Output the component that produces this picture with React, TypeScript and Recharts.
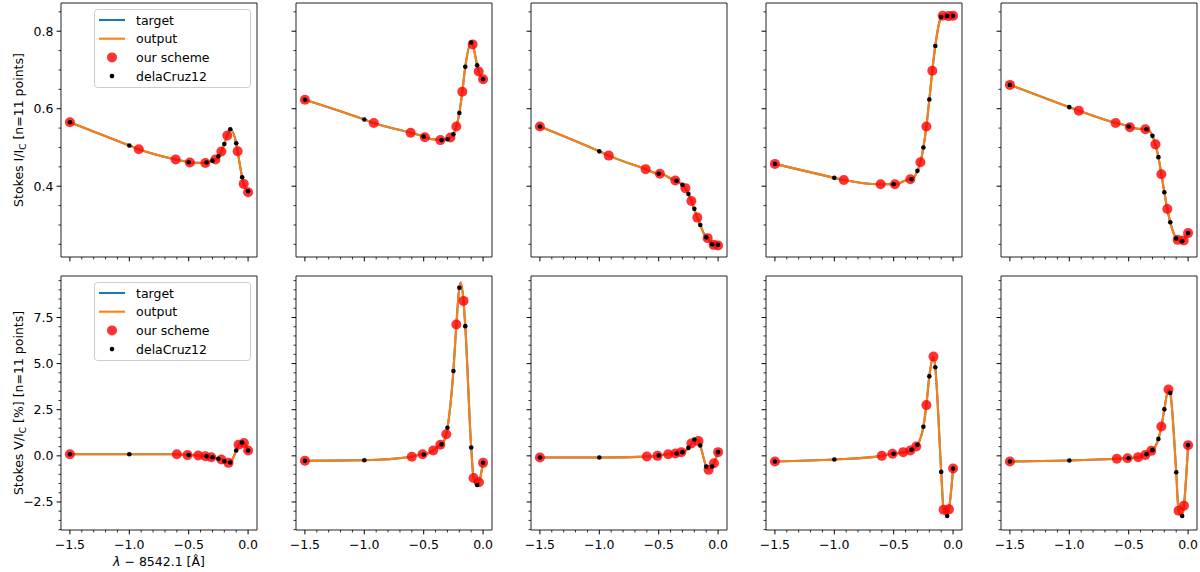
import React from 'react';
import { ComposedChart, Line, Scatter, XAxis, YAxis, CartesianGrid, Label } from 'recharts';

// ---------- data ----------
// wavelength offsets (Å) of the delaCruz12 sampling (same for all panels)
const DELA_X = [-1.5, -1.0, -0.5, -0.35, -0.3, -0.25, -0.2, -0.15, -0.1, -0.05, 0.0];
// wavelength offsets of "our scheme" sampling, Stokes I row and Stokes V row
const SCHEME_X_I = [-1.5, -0.92, -0.61, -0.49, -0.36, -0.275, -0.225, -0.175, -0.088, -0.037, 0.0];
const SCHEME_X_V = [-1.5, -0.6, -0.51, -0.42, -0.36, -0.31, -0.225, -0.165, -0.08, -0.035, 0.0];

// Stokes I/Ic
const I_SCHEME_1 = [0.565, 0.4955, 0.469, 0.461, 0.46, 0.469, 0.4895, 0.531, 0.49, 0.406, 0.3845];
const I_DELA_1 = [0.565, 0.505, 0.462, 0.461, 0.466, 0.477, 0.509, 0.547, 0.511, 0.423, 0.387];
const I_SCHEME_2 = [0.623, 0.563, 0.538, 0.5265, 0.519, 0.5256, 0.554, 0.644, 0.766, 0.696, 0.676];
const I_DELA_2 = [0.623, 0.572, 0.528, 0.519, 0.521, 0.534, 0.589, 0.708, 0.771, 0.712, 0.676];
const I_SCHEME_3 = [0.554, 0.479, 0.444, 0.432, 0.4146, 0.395, 0.362, 0.319, 0.266, 0.2486, 0.247];
const I_DELA_3 = [0.554, 0.49, 0.432, 0.414, 0.4034, 0.38, 0.3415, 0.3, 0.268, 0.25, 0.2486];
const I_SCHEME_4 = [0.4576, 0.416, 0.405, 0.405, 0.418, 0.462, 0.554, 0.698, 0.84, 0.839, 0.84];
const I_DELA_4 = [0.4576, 0.4215, 0.405, 0.418, 0.4396, 0.4998, 0.6237, 0.762, 0.837, 0.839, 0.84];
const I_SCHEME_5 = [0.6615, 0.595, 0.563, 0.552, 0.547, 0.508, 0.431, 0.341, 0.2615, 0.26, 0.279];
const I_DELA_5 = [0.6615, 0.604, 0.554, 0.547, 0.53, 0.475, 0.3845, 0.307, 0.265, 0.258, 0.279];

// Stokes V/Ic [%]
const V_SCHEME_1 = [0.09, 0.09, 0.04, 0.02, -0.02, -0.08, -0.2, -0.38, 0.6, 0.7, 0.29];
const V_DELA_1 = [0.09, 0.09, 0.05, -0.02, -0.08, -0.16, -0.29, -0.36, 0.29, 0.72, 0.29];
const V_SCHEME_2 = [-0.27, -0.05, 0.09, 0.29, 0.6, 1.17, 7.12, 8.4, -1.2, -1.43, -0.38];
const V_DELA_2 = [-0.27, -0.24, 0.07, 0.62, 1.52, 4.6, 9.11, 7.03, 0.45, -1.58, -0.38];
const V_SCHEME_3 = [-0.09, -0.04, 0.0, 0.09, 0.13, 0.2, 0.67, 0.8, -0.76, -0.4, 0.2];
const V_DELA_3 = [-0.09, -0.09, 0.02, 0.13, 0.2, 0.43, 0.89, 0.56, -0.58, -0.58, 0.2];
const V_SCHEME_4 = [-0.31, 0.0, 0.11, 0.2, 0.29, 0.51, 2.75, 5.38, -2.92, -2.9, -0.69];
const V_DELA_4 = [-0.31, -0.2, 0.11, 0.33, 0.6, 1.58, 4.31, 4.8, -0.87, -3.26, -0.69];
const V_SCHEME_5 = [-0.31, -0.16, -0.13, -0.07, 0.05, 0.27, 1.59, 3.6, -2.97, -2.7, 0.58];
const V_DELA_5 = [-0.31, -0.25, -0.13, 0.09, 0.31, 0.92, 2.52, 3.41, -0.89, -3.26, 0.58];

// extra profile samples (peaks)
const V_PEAK_X_2 = [-0.188];
const V_PEAK_Y_2 = [9.4];

// axis ticks
const X_MAJOR = [-1.5, -1.0, -0.5, 0.0];
const X_MINOR = [-1.4, -1.3, -1.2, -1.1, -0.9, -0.8, -0.7, -0.6, -0.4, -0.3, -0.2, -0.1];
const I_MAJOR = [0.4, 0.6, 0.8];
const I_MINOR = [0.25, 0.3, 0.35, 0.45, 0.5, 0.55, 0.65, 0.7, 0.75, 0.85];
const V_MAJOR = [-2.5, 0.0, 2.5, 5.0, 7.5];
const V_MINOR = [-4, -3.5, -3, -2, -1.5, -1, -0.5, 0.5, 1, 1.5, 2, 3, 3.5, 4, 4.5, 5.5, 6, 6.5, 7, 8, 8.5, 9, 9.5];

const LEGEND_LABELS = ['target', 'output', 'our scheme', 'delaCruz12'];

// ---------- styling / layout ----------
const FONT = '"DejaVu Sans", Verdana, sans-serif';
const FS = 12.5;
const C_TARGET = '#1f77b4';
const C_OUTPUT = '#ff7f0e';
const C_SCHEME = '#ff0000';
const C_DELA = '#000000';
const LW = 2.1;

const X_DOMAIN: [number, number] = [-1.575, 0.075];
const Y_DOMAINS: [number, number][] = [
  [0.2173, 0.8728],
  [-4.02, 9.75],
];

const PLOT_LEFT = [60.5, 295.5, 530.5, 765.5, 1000.5];
const PLOT_TOP = [2.5, 275.5];
const PLOT_W = 196;
const PLOT_H = 254;
const YW = 60;
const MR = 4;
const MT = 4;
const TS = 4;
const TM = 4;

type Pt = { x: number; y: number };
const toPts = (xs: number[], ys: number[]): Pt[] => xs.map((x, i) => ({ x, y: ys[i] }));
const mergeLine = (a: Pt[], b: Pt[], extra: Pt[]): Pt[] => {
  const all = [...a, ...b, ...extra].sort((p, q) => p.x - q.x);
  const out: Pt[] = [];
  for (const p of all) {
    const last = out[out.length - 1];
    if (last && Math.abs(last.x - p.x) < 1e-9) {
      last.y = (last.y + p.y) / 2;
    } else {
      out.push({ x: p.x, y: p.y });
    }
  }
  return out;
};

const I_SCHEME = [I_SCHEME_1, I_SCHEME_2, I_SCHEME_3, I_SCHEME_4, I_SCHEME_5];
const I_DELA = [I_DELA_1, I_DELA_2, I_DELA_3, I_DELA_4, I_DELA_5];
const V_SCHEME = [V_SCHEME_1, V_SCHEME_2, V_SCHEME_3, V_SCHEME_4, V_SCHEME_5];
const V_DELA = [V_DELA_1, V_DELA_2, V_DELA_3, V_DELA_4, V_DELA_5];
const V_EXTRA: Pt[][] = [[], toPts(V_PEAK_X_2, V_PEAK_Y_2), [], [], []];

const isIn = (arr: number[], v: number) => arr.some((m) => Math.abs(m - v) < 1e-6);
const fmt = (v: number) => {
  const s = Math.abs(v).toFixed(1);
  return v < -1e-9 ? '\u2212' + s : s;
};
const sorted = (a: number[], b: number[]) => [...a, ...b].sort((p, q) => p - q);

const makeXTick = (showLabel: boolean) => (props: any) => {
  const { x, y, payload } = props;
  const v = payload.value;
  const major = isIn(X_MAJOR, v);
  const ay = y - TS - TM;
  return (
    <g>
      <line x1={x} x2={x} y1={ay} y2={ay + (major ? 4.4 : 2.5)} stroke="#000" strokeWidth={major ? 1 : 0.8} />
      {major && showLabel ? (
        <text x={x} y={ay + 18.5} textAnchor="middle" fontFamily={FONT} fontSize={FS} fill="#000">
          {fmt(v)}
        </text>
      ) : null}
    </g>
  );
};

const makeYTick = (majors: number[], showLabel: boolean) => (props: any) => {
  const { x, y, payload } = props;
  const v = payload.value;
  const major = isIn(majors, v);
  const ax = x + TS + TM;
  return (
    <g>
      <line x1={ax} x2={ax - (major ? 4.4 : 2.5)} y1={y} y2={y} stroke="#000" strokeWidth={major ? 1 : 0.8} />
      {major && showLabel ? (
        <text x={ax - 7.5} y={y} dy="0.36em" textAnchor="end" fontFamily={FONT} fontSize={FS} fill="#000">
          {fmt(v)}
        </text>
      ) : null}
    </g>
  );
};

const makeYLabel = (head: string, tail: string) => (props: any) => {
  const vb = props.viewBox || { x: 0, y: 0, width: 0, height: 0 };
  const cx = vb.x + 21.5;
  const cy = vb.y + vb.height / 2;
  return (
    <text
      x={cx}
      y={cy}
      transform={`rotate(-90 ${cx} ${cy})`}
      textAnchor="middle"
      fontFamily={FONT}
      fontSize={FS}
      fill="#000"
    >
      {head}
      <tspan fontSize={9} dy={3}>
        C
      </tspan>
      <tspan dy={-3}>{tail}</tspan>
    </text>
  );
};

const xLabelContent = (props: any) => {
  const vb = props.viewBox || { x: 0, y: 0, width: 0, height: 0 };
  return (
    <text x={vb.x + vb.width / 2} y={vb.y + 36} textAnchor="middle" fontFamily={FONT} fontSize={FS} fill="#000">
      <tspan fontStyle="italic">λ</tspan>
      <tspan>{'\u00a0\u2212\u00a08542.1\u00a0[Å]'}</tspan>
    </text>
  );
};

const schemeShape = (p: any) => <circle cx={p.cx} cy={p.cy} r={5} fill={C_SCHEME} fillOpacity={0.8} />;
const delaShape = (p: any) => <circle cx={p.cx} cy={p.cy} r={2.3} fill={C_DELA} />;

function Panel({ row, col }: { row: number; col: number }) {
  const isI = row === 0;
  const scheme = toPts(isI ? SCHEME_X_I : SCHEME_X_V, (isI ? I_SCHEME : V_SCHEME)[col]);
  const dela = toPts(DELA_X, (isI ? I_DELA : V_DELA)[col]);
  const line = mergeLine(scheme, dela, isI ? [] : V_EXTRA[col]);
  const xh = row === 0 ? 8 : 44;
  const W = YW + PLOT_W + MR;
  const H = MT + PLOT_H + xh;
  const majors = isI ? I_MAJOR : V_MAJOR;
  const minors = isI ? I_MINOR : V_MINOR;
  return (
    <div style={{ position: 'absolute', left: PLOT_LEFT[col] - YW, top: PLOT_TOP[row] - MT }}>
      <ComposedChart width={W} height={H} margin={{ top: MT, right: MR, bottom: 0, left: 0 }}>
        <CartesianGrid
          stroke="#222"
          strokeWidth={1}
          horizontalCoordinatesGenerator={(a: any) => [a.offset.top, a.offset.top + a.offset.height]}
          verticalCoordinatesGenerator={(a: any) => [a.offset.left, a.offset.left + a.offset.width]}
        />
        <XAxis
          type="number"
          dataKey="x"
          domain={X_DOMAIN}
          allowDataOverflow
          ticks={sorted(X_MAJOR, X_MINOR)}
          interval={0}
          height={xh}
          tickSize={TS}
          tickMargin={TM}
          tickLine={false}
          axisLine={false}
          tick={makeXTick(row === 1)}
        >
          {row === 1 && col === 0 ? <Label content={xLabelContent} /> : null}
        </XAxis>
        <YAxis
          type="number"
          dataKey="y"
          domain={Y_DOMAINS[row]}
          allowDataOverflow
          ticks={sorted(majors, minors)}
          interval={0}
          width={YW}
          tickSize={TS}
          tickMargin={TM}
          tickLine={false}
          axisLine={false}
          tick={makeYTick(majors, col === 0)}
        >
          {col === 0 ? (
            <Label
              content={isI ? makeYLabel('Stokes I/I', '\u00a0[n=11 points]') : makeYLabel('Stokes V/I', '\u00a0[%] [n=11 points]')}
            />
          ) : null}
        </YAxis>
        <Line
          data={line}
          dataKey="y"
          type="monotoneX"
          stroke={C_TARGET}
          strokeWidth={LW}
          dot={false}
          activeDot={false}
          isAnimationActive={false}
        />
        <Line
          data={line}
          dataKey="y"
          type="monotoneX"
          stroke={C_OUTPUT}
          strokeWidth={LW}
          dot={false}
          activeDot={false}
          isAnimationActive={false}
        />
        <Scatter data={scheme} dataKey="y" shape={schemeShape} isAnimationActive={false} />
        <Scatter data={dela} dataKey="y" shape={delaShape} isAnimationActive={false} />
      </ComposedChart>
    </div>
  );
}

function LegendBox({ left, top }: { left: number; top: number }) {
  const rows = [11, 29.7, 48.4, 67.1];
  return (
    <svg style={{ position: 'absolute', left, top, overflow: 'visible' }} width={157} height={79}>
      <rect x={0.5} y={0.5} width={156} height={78} rx={3} ry={3} fill="#fff" fillOpacity={0.8} stroke="#cccccc" />
      <line x1={5} x2={31} y1={rows[0]} y2={rows[0]} stroke={C_TARGET} strokeWidth={LW} />
      <line x1={5} x2={31} y1={rows[1]} y2={rows[1]} stroke={C_OUTPUT} strokeWidth={LW} />
      <circle cx={18} cy={rows[2]} r={5} fill={C_SCHEME} fillOpacity={0.8} />
      <circle cx={18} cy={rows[3]} r={2.3} fill={C_DELA} />
      {LEGEND_LABELS.map((t, i) => (
        <text key={t} x={42} y={rows[i] + 4.5} fontFamily={FONT} fontSize={FS} fill="#000">
          {t}
        </text>
      ))}
    </svg>
  );
}

export default function App() {
  const cols = [0, 1, 2, 3, 4];
  return (
    <div
      style={{
        position: 'absolute',
        left: 0,
        top: 0,
        width: 1200,
        height: 572,
        background: '#fff',
        overflow: 'hidden',
      }}
    >
      {[0, 1].map((row) => cols.map((col) => <Panel key={`${row}-${col}`} row={row} col={col} />))}
      <LegendBox left={PLOT_LEFT[0] + 33.5} top={PLOT_TOP[0] + 6} />
      <LegendBox left={PLOT_LEFT[0] + 33.5} top={PLOT_TOP[1] + 6} />
    </div>
  );
}
